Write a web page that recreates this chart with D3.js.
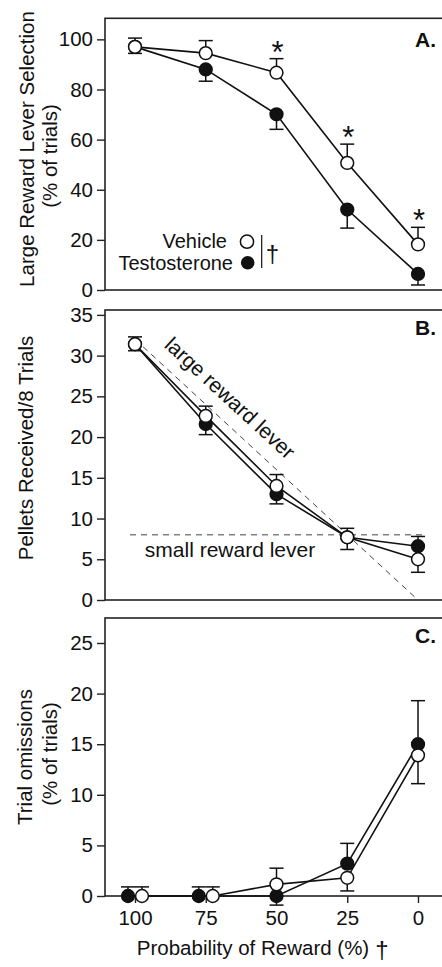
<!DOCTYPE html>
<meta charset="utf-8">
<script src="https://d3js.org/d3.v7.min.js"></script>
<style>
  body { margin: 0; background: #fff; }
  text { font-family: "Liberation Sans", Arial, sans-serif; fill: #111; }
</style>
<div id="chart"></div>
<script>
// reward probability categories (x axis)
var probs = [100, 75, 50, 25, 0];

// A. large reward lever selection (% of trials)
var vehA = [97, 94.5, 86.7, 50.7, 18.2];
var vehErrA = [3.5, 5, 5.6, 7.5, 6.8];
var tesA = [97, 88, 70.1, 32.1, 6.4];
var tesErrA = [-2.6, -4.7, -6, -7.4, -4.4];
var sigA = [false, false, true, true, true];

// B. pellets received / 8 trials
var vehB = [31.4, 22.6, 14.0, 7.7, 5.0];
var vehErrB = [0.9, 1.2, 1.4, 1.1, -1.6];
var tesB = [31.4, 21.6, 13.0, 7.7, 6.6];
var tesErrB = [-0.8, -1.3, -1.2, -1.5, 1.2];
var largeLever = [32, 0];   // at 100% and 0%
var smallLever = 8;

// C. trial omissions (% of trials)
var vehC = [0, 0, 1.15, 1.8, 13.9];
var vehErrC = [0.9, 0.9, 1.6, -1.3, -2.8];
var tesC = [0, 0, 0, 3.2, 15.0];
var tesErrC = [0.9, 0.9, -0.9, 2.0, 4.3];

var ticksA = [0, 20, 40, 60, 80, 100];
var ticksB = [0, 5, 10, 15, 20, 25, 30, 35];
var ticksC = [0, 5, 10, 15, 20, 25];

var W = 442, H = 967;
var left = 105, right = 448;
var fs = "20.5px";

var svg = d3.select("#chart").append("svg")
    .attr("width", W)
    .attr("height", H);

var x = d3.scaleLinear().domain([100, 0]).range([135, 418]);

function drawPanel(p) {
  var y = d3.scaleLinear().domain(p.domain).range([p.bottom, p.top]);
  var g = svg.append("g");

  // frame
  g.append("rect")
    .attr("x", left).attr("y", p.top)
    .attr("width", right - left).attr("height", p.bottom - p.top)
    .attr("fill", "none").attr("stroke", "#222").attr("stroke-width", 1.6);

  // y axis
  var ya = g.append("g")
    .attr("transform", "translate(" + left + ",0)")
    .call(d3.axisLeft(y).tickValues(p.ticks).tickSize(8).tickPadding(4));
  ya.select(".domain").remove();
  ya.selectAll("line").attr("stroke", "#222").attr("stroke-width", 1.4);
  ya.selectAll("text").style("font-size", fs).attr("fill", "#111");

  // panel letter
  g.append("text")
    .attr("x", 436).attr("y", p.letterY)
    .attr("text-anchor", "end")
    .style("font-size", "21px").style("font-weight", "bold")
    .text(p.letter);

  // y title lines
  p.titles.forEach(function(t) {
    g.append("text")
      .attr("transform", "translate(" + t.x + "," + t.cy + ") rotate(-90)")
      .attr("text-anchor", "middle")
      .style("font-size", fs)
      .text(t.text);
  });

  if (p.extra) p.extra(g, y);

  var series = [
    {vals: p.tes, err: p.tesErr, fill: "#111", dodge: -7},
    {vals: p.veh, err: p.vehErr, fill: "#fff", dodge: 7}
  ];

  function px(s, i) {
    var base = x(probs[i]);
    if (p.dodge && p.veh[i] === p.tes[i]) return base + s.dodge;
    return base;
  }

  // lines
  series.forEach(function(s) {
    var line = d3.line()
      .x(function(d, i) { return px(s, i); })
      .y(function(d) { return y(d); });
    g.append("path")
      .datum(s.vals)
      .attr("d", line)
      .attr("fill", "none")
      .attr("stroke", "#111")
      .attr("stroke-width", 1.6);
  });

  // error bars
  series.forEach(function(s) {
    s.vals.forEach(function(v, i) {
      var cx = px(s, i), y0 = y(v), y1 = y(v + s.err[i]);
      g.append("line").attr("x1", cx).attr("x2", cx).attr("y1", y0).attr("y2", y1)
        .attr("stroke", "#111").attr("stroke-width", 1.5);
      g.append("line").attr("x1", cx - 7).attr("x2", cx + 7).attr("y1", y1).attr("y2", y1)
        .attr("stroke", "#111").attr("stroke-width", 1.5);
    });
  });

  // markers
  series.forEach(function(s) {
    g.selectAll(null)
      .data(s.vals)
      .enter().append("circle")
      .attr("cx", function(d, i) { return px(s, i); })
      .attr("cy", function(d) { return y(d); })
      .attr("r", 6.4)
      .attr("fill", s.fill)
      .attr("stroke", "#111")
      .attr("stroke-width", 1.5);
  });

  if (p.after) p.after(g, y);
  return y;
}

// ---- Panel A
drawPanel({
  top: 18.3, bottom: 290, domain: [0, 108.4], ticks: ticksA,
  letter: "A.", letterY: 47,
  veh: vehA, vehErr: vehErrA, tes: tesA, tesErr: tesErrA,
  titles: [
    {text: "Large Reward Lever Selection", x: 33.5, cy: 149},
    {text: "(% of trials)", x: 57, cy: 156}
  ],
  after: function(g, y) {
    // significance stars
    sigA.forEach(function(s, i) {
      if (!s) return;
      g.append("text")
        .attr("x", x(probs[i]) + 1)
        .attr("y", y(vehA[i] + vehErrA[i]) + 4)
        .attr("text-anchor", "middle")
        .style("font-size", "31px")
        .text("*");
    });
    // legend
    var lg = g.append("g");
    lg.append("text").attr("x", 227).attr("y", 248).attr("text-anchor", "end")
      .style("font-size", "20px").text("Vehicle");
    lg.append("text").attr("x", 233).attr("y", 269.5).attr("text-anchor", "end")
      .style("font-size", "20px").text("Testosterone");
    lg.append("circle").attr("cx", 247).attr("cy", 241.7).attr("r", 6.6)
      .attr("fill", "#fff").attr("stroke", "#111").attr("stroke-width", 1.5);
    lg.append("circle").attr("cx", 247.7).attr("cy", 262.7).attr("r", 6.8)
      .attr("fill", "#111");
    lg.append("line").attr("x1", 261.7).attr("x2", 261.7).attr("y1", 235).attr("y2", 268)
      .attr("stroke", "#111").attr("stroke-width", 1.2);
    lg.append("text").attr("x", 272.5).attr("y", 262).attr("text-anchor", "middle")
      .style("font-size", "24px").text("\u2020");
  }
});

// ---- Panel B
drawPanel({
  top: 310, bottom: 600, domain: [0, 35.6], ticks: ticksB,
  letter: "B.", letterY: 335,
  veh: vehB, vehErr: vehErrB, tes: tesB, tesErr: tesErrB,
  titles: [
    {text: "Pellets Received/8 Trials", x: 33, cy: 448}
  ],
  extra: function(g, y) {
    // reference lines
    g.append("line")
      .attr("x1", x(100)).attr("y1", y(largeLever[0]))
      .attr("x2", x(0)).attr("y2", y(largeLever[1]))
      .attr("stroke", "#444").attr("stroke-width", 1).attr("stroke-dasharray", "6,5");
    g.append("line")
      .attr("x1", x(100) - 5).attr("y1", y(smallLever))
      .attr("x2", x(0) + 8).attr("y2", y(smallLever))
      .attr("stroke", "#444").attr("stroke-width", 1).attr("stroke-dasharray", "6,5");

    var x0 = x(100), y0 = y(largeLever[0]), x1 = x(0), y1 = y(largeLever[1]);
    var ang = Math.atan2(y1 - y0, x1 - x0);
    var t = 0.285, off = 14;
    var tx = x0 + (x1 - x0) * t + Math.sin(ang) * off;
    var ty = y0 + (y1 - y0) * t - Math.cos(ang) * off;
    g.append("text")
      .attr("transform", "translate(" + tx + "," + ty + ") rotate(" + (ang * 180 / Math.PI) + ")")
      .attr("text-anchor", "middle")
      .style("font-size", "21px")
      .text("large reward lever");
    g.append("text")
      .attr("x", 230).attr("y", 557)
      .attr("text-anchor", "middle")
      .style("font-size", "21px")
      .text("small reward lever");
  }
});

// ---- Panel C
drawPanel({
  top: 618, bottom: 896, domain: [0, 27.47], ticks: ticksC,
  letter: "C.", letterY: 643, dodge: true,
  veh: vehC, vehErr: vehErrC, tes: tesC, tesErr: tesErrC,
  titles: [
    {text: "Trial omissions", x: 32, cy: 757},
    {text: "(% of trials)", x: 57, cy: 754}
  ],
  extra: function(g, y) {
    var xa = g.append("g")
      .attr("transform", "translate(0," + y(0) + ")")
      .call(d3.axisBottom(x).tickValues(probs).tickSize(7).tickPadding(7));
    xa.select(".domain").remove();
    xa.selectAll("line").attr("stroke", "#222").attr("stroke-width", 1.4);
    xa.selectAll("text").style("font-size", fs).attr("fill", "#111");
  }
});

// x title
svg.append("text")
  .attr("x", 253).attr("y", 955)
  .attr("text-anchor", "middle")
  .style("font-size", fs)
  .text("Probability of Reward (%)");
svg.append("text")
  .attr("x", 382).attr("y", 958)
  .attr("text-anchor", "middle")
  .style("font-size", "24px")
  .text("\u2020");
</script>
